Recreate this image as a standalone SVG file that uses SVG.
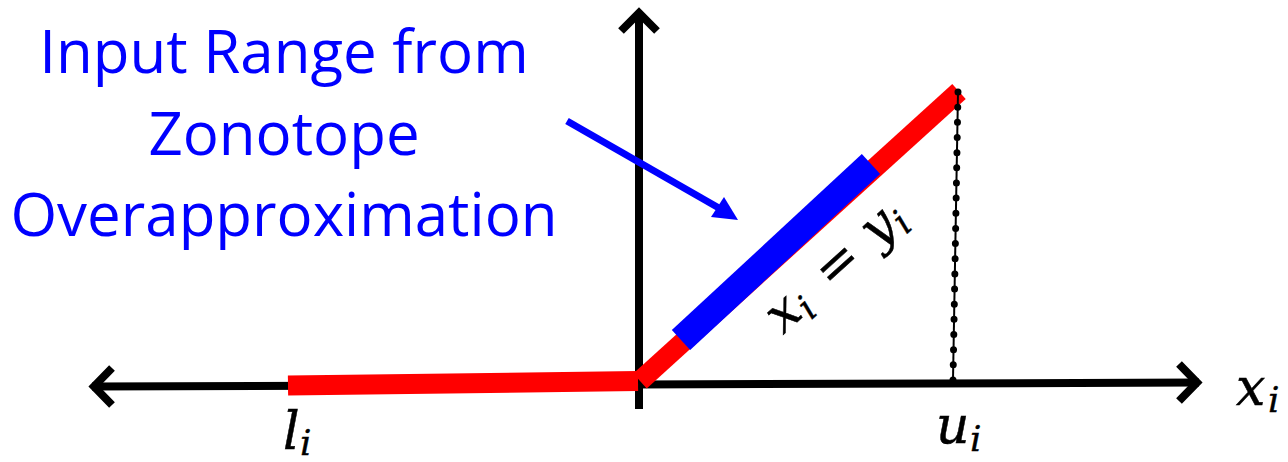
<svg xmlns="http://www.w3.org/2000/svg" width="1288" height="462" viewBox="0 0 1288 462">
  <defs>
    <style>
      .axis { stroke: #000; stroke-width: 8; fill: none; }
      .head { stroke: #000; stroke-width: 8; fill: none; stroke-linejoin: miter; stroke-linecap: butt; }
      .red { stroke: #ff0000; stroke-width: 20; stroke-linecap: butt; fill: none; }
      .blue { stroke: #0000ff; stroke-width: 27; stroke-linecap: butt; fill: none; }
      .math { font-family: "DejaVu Serif", "Liberation Serif", serif; font-style: italic; font-size: 52px; fill: #000; stroke: #000; stroke-width: 0.5; }
      .sub { font-size: 36px; stroke-width: 0.4; }
      .up { font-style: normal; }
      .note { font-family: "Open Sans", "Noto Sans", sans-serif; font-size: 60px; fill: #0000ff; text-anchor: middle; }
    </style>
  </defs>
  <rect width="1288" height="462" fill="#fff"/>

  <g id="axes">
    <line class="axis" x1="92" y1="386.5" x2="1199" y2="382.5"/>
    <line class="axis" x1="639" y1="12" x2="639" y2="409"/>
    <polyline class="head" points="112,368 94,386.5 112,405"/>
    <polyline class="head" points="1179,364 1197,382.5 1179,401"/>
    <polyline class="head" points="621,31 639,13 657,31"/>
  </g>

  <g id="curve">
    <line class="red" x1="288" y1="385.5" x2="638" y2="381"/>
    <line class="red" x1="640" y1="381" x2="959" y2="91.5"/>
    <line class="blue" x1="681" y1="340" x2="871" y2="164"/>
  </g>

  <g id="dotted-upper-bound">
    <path d="M958,92 L953,380" stroke="#000" stroke-width="2" fill="none"/>
    <path d="M958,92 L953,380" stroke="#000" stroke-width="7" stroke-linecap="round" stroke-dasharray="0 15.16" fill="none"/>
  </g>

  <g id="annotation">
    <text class="note" x="284" y="73">Input Range from</text>
    <text class="note" x="284" y="155">Zonotope</text>
    <text class="note" x="284" y="236">Overapproximation</text>
    <line x1="567" y1="121" x2="718" y2="207.5" stroke="#0000ff" stroke-width="7"/>
    <polygon points="738,220 711,217 724,197" fill="#0000ff"/>
  </g>

  <g id="labels">
    <g transform="translate(783,335) rotate(-42)">
      <text class="math" x="0" y="0">x</text>
      <text class="math sub" x="30" y="8">i</text>
      <text class="math up" x="66" y="0">=</text>
      <text class="math" x="128" y="0">y</text>
      <text class="math sub" x="158" y="8">i</text>
    </g>
    <text class="math" x="283" y="449">l</text>
    <text class="math sub" x="300" y="455">i</text>
    <text class="math" x="936" y="443">u</text>
    <text class="math sub" x="970" y="451">i</text>
    <text class="math" x="1236" y="405">x</text>
    <text class="math sub" x="1268" y="412">i</text>
  </g>
</svg>
